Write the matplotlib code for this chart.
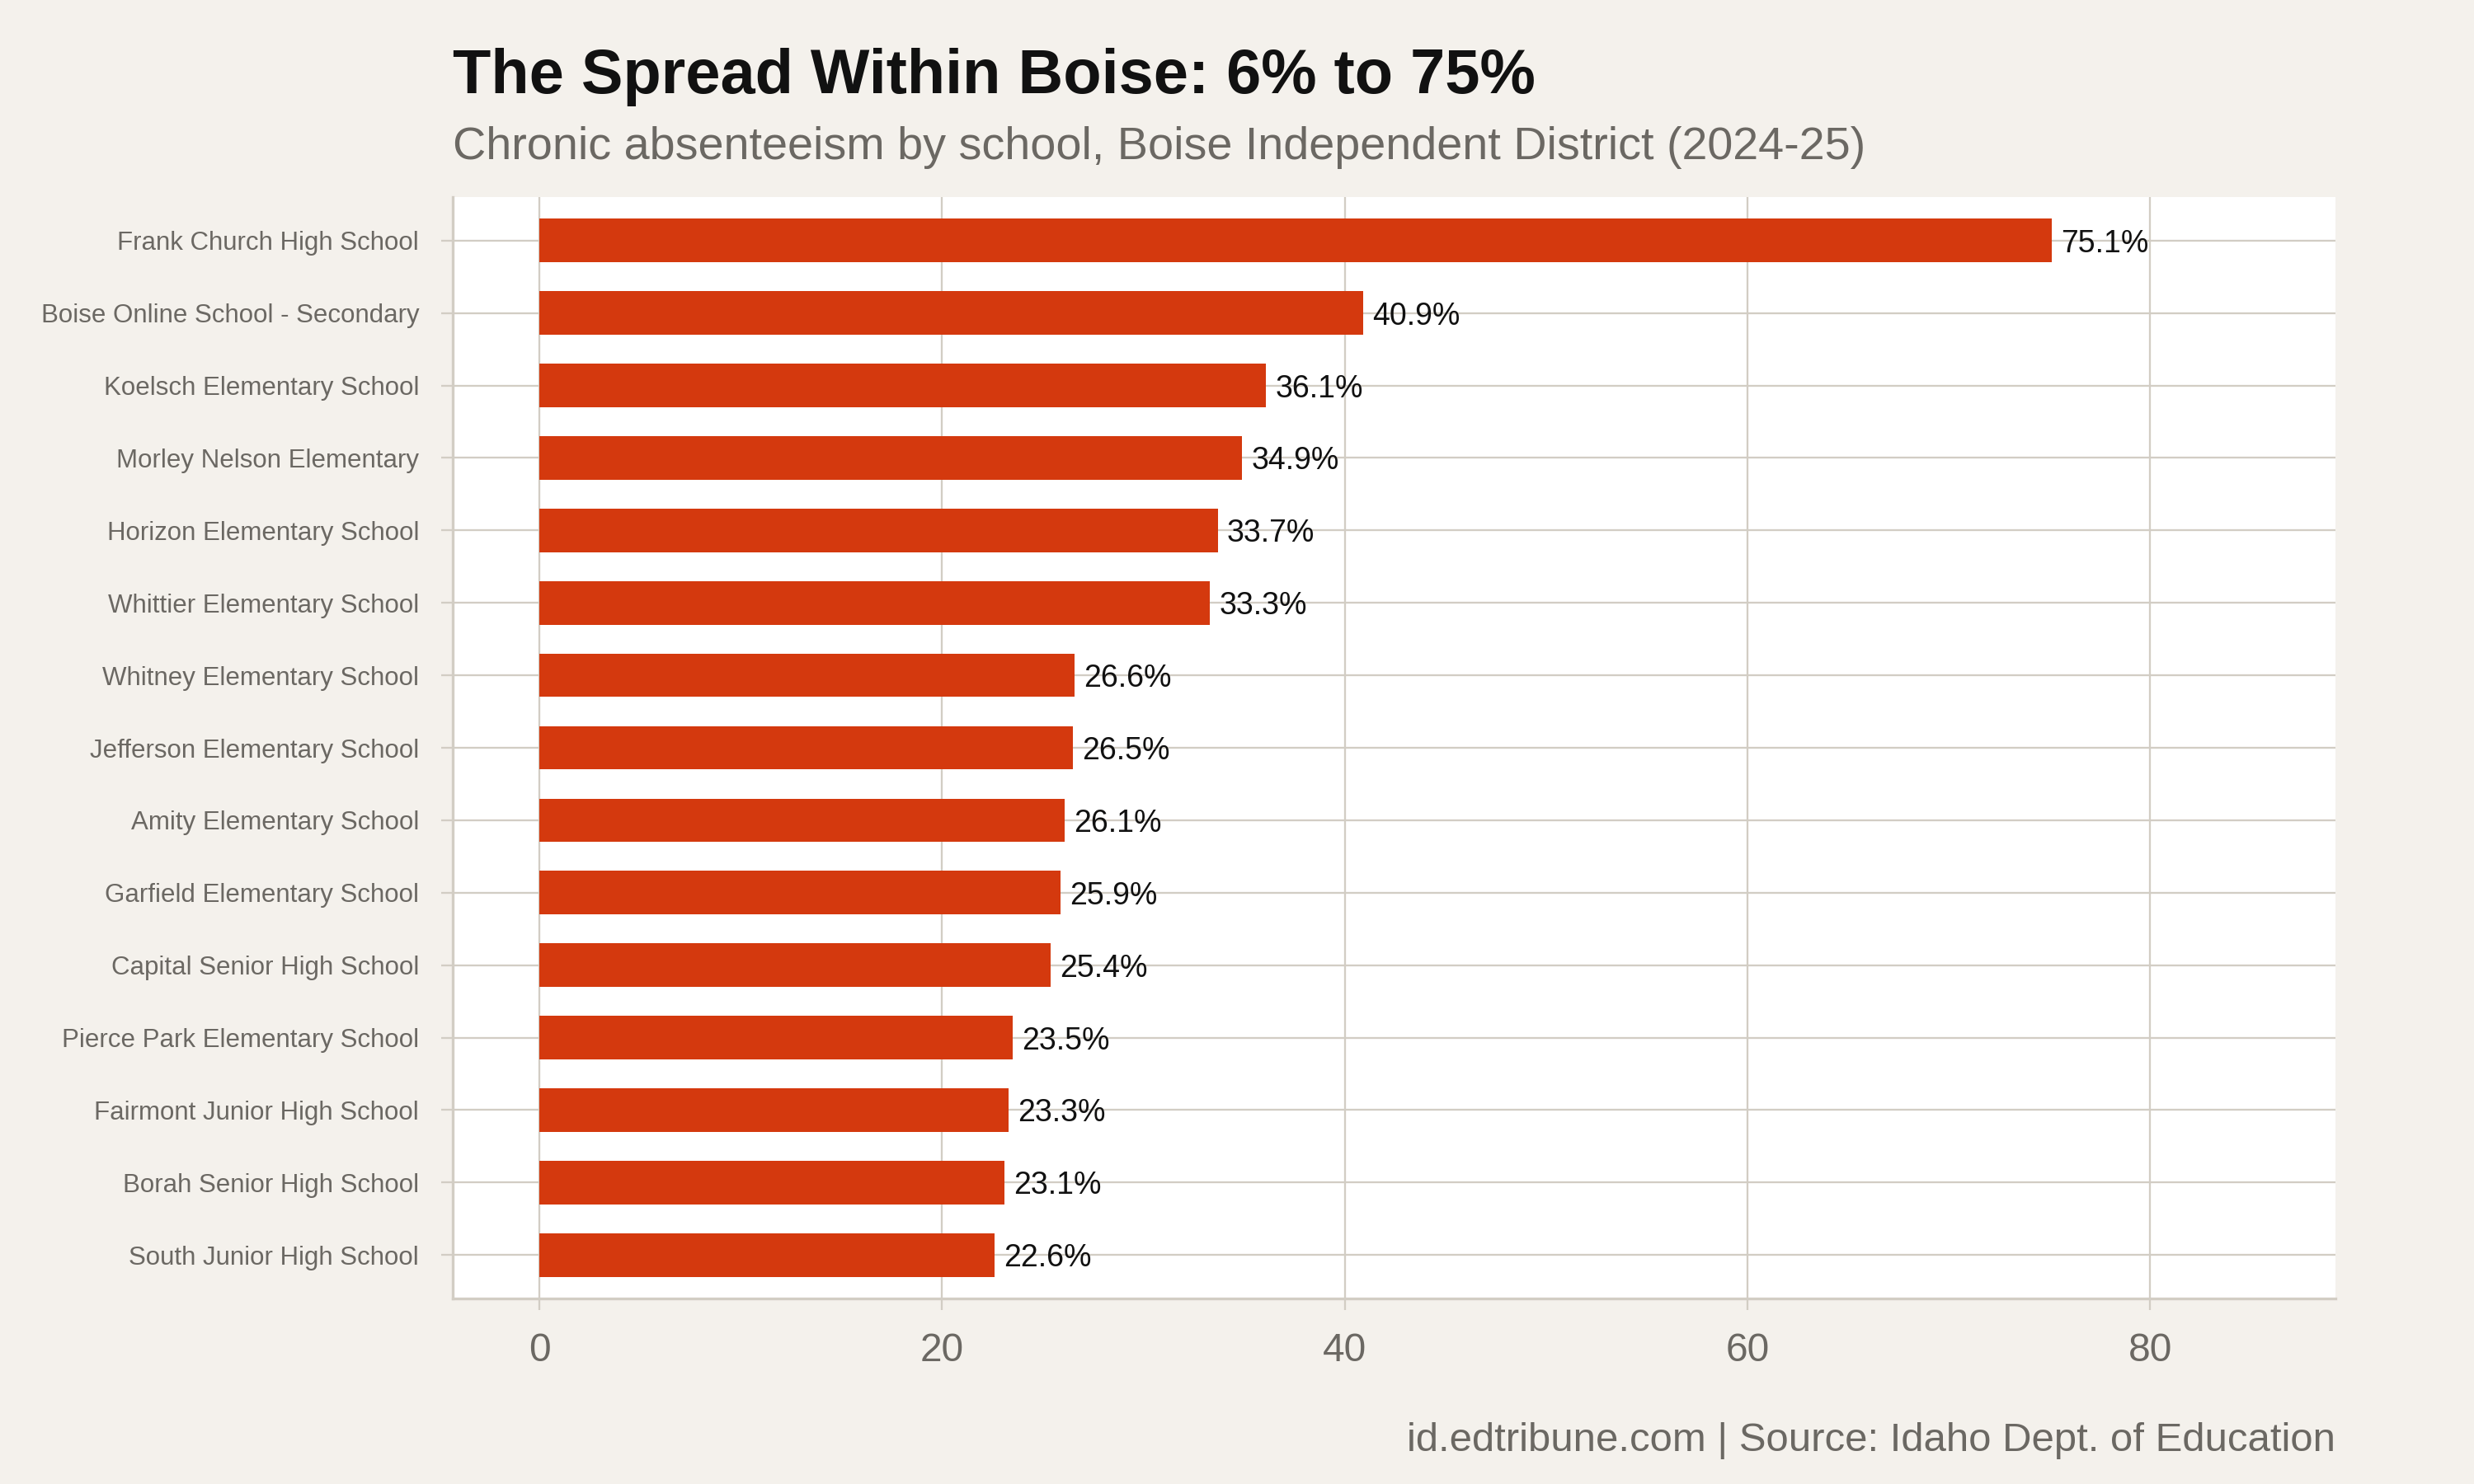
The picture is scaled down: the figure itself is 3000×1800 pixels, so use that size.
import matplotlib
matplotlib.use("Agg")
import matplotlib.pyplot as plt
import numpy as np

schools = [
    "Frank Church High School",
    "Boise Online School - Secondary",
    "Koelsch Elementary School",
    "Morley Nelson Elementary",
    "Horizon Elementary School",
    "Whittier Elementary School",
    "Whitney Elementary School",
    "Jefferson Elementary School",
    "Amity Elementary School",
    "Garfield Elementary School",
    "Capital Senior High School",
    "Pierce Park Elementary School",
    "Fairmont Junior High School",
    "Borah Senior High School",
    "South Junior High School",
]
rates = [75.1, 40.9, 36.1, 34.9, 33.7, 33.3, 26.6, 26.5, 26.1, 25.9, 25.4, 23.5, 23.3, 23.1, 22.6]
x_ticks = [0, 20, 40, 60, 80]

title = "The Spread Within Boise: 6% to 75%"
subtitle = "Chronic absenteeism by school, Boise Independent District (2024-25)"
caption = "id.edtribune.com | Source: Idaho Dept. of Education"

BG = "#F4F1EC"
BAR = "#D4390E"
GRID = "#D2CDC4"
GREY = "#6B6863"

plt.rcParams["font.family"] = ["Liberation Sans", "DejaVu Sans"]

fig = plt.figure(figsize=(10, 6), dpi=300, facecolor=BG)
ax = fig.add_axes([0.183, 0.125, 0.944 - 0.183, 0.8672 - 0.125])
ax.set_facecolor("white")

# top school at the top
y = np.arange(len(schools))[::-1] + 1
ax.barh(y, rates, height=0.6, color=BAR, zorder=2)
for yi, v in zip(y, rates):
    ax.text(v + 0.45, yi, f"{v:.1f}%", va="center_baseline", ha="left",
            fontsize=9.0, color="#111111", zorder=3)

ax.set_xlim(-4.3, 89.2)
ax.set_ylim(0.4, len(schools) + 0.6)
ax.set_xticks(x_ticks)
ax.set_xticklabels([str(t) for t in x_ticks])
ax.set_yticks(y)
ax.set_yticklabels(schools)

ax.grid(True, color=GRID, linewidth=0.55, zorder=0)
ax.set_axisbelow(True)

for side in ["top", "right"]:
    ax.spines[side].set_visible(False)
for side in ["left", "bottom"]:
    ax.spines[side].set_color(GRID)
    ax.spines[side].set_linewidth(0.8)

ax.tick_params(axis="y", length=3.3, width=0.55, color=GRID, pad=6.5,
               labelsize=7.5, labelcolor=GREY)
ax.tick_params(axis="x", length=3.3, width=0.55, color=GRID, pad=6.5,
               labelsize=11.5, labelcolor=GREY)

fig.text(0.183, 0.9372, title, fontsize=18.2, fontweight="bold",
         color="#111111", ha="left", va="baseline")
fig.text(0.183, 0.8928, subtitle, fontsize=13.4, color=GREY,
         ha="left", va="baseline")
fig.text(0.944, 0.0222, caption, fontsize=11.8, color=GREY,
         ha="right", va="baseline")

fig.savefig("out.png", dpi=300, facecolor=BG)
